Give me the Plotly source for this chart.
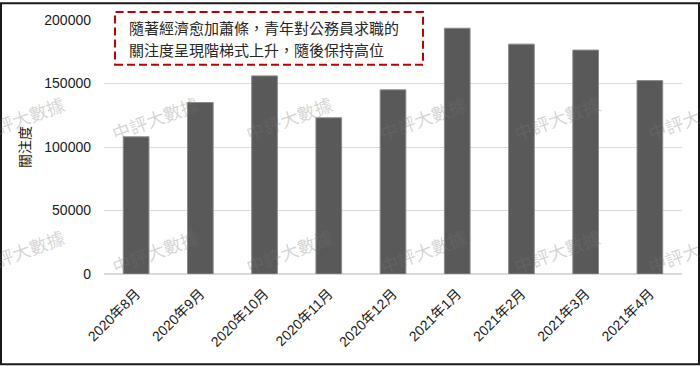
import plotly.graph_objects as go

months = ["2020年8月", "2020年9月", "2020年10月", "2020年11月", "2020年12月",
          "2021年1月", "2021年2月", "2021年3月", "2021年4月"]
attention = [108000, 135000, 156000, 123000, 145000, 193500, 181000, 176300, 152300]
y_ticks = [0, 50000, 100000, 150000, 200000]
y_title = "關注度"
note_lines = ["隨著經濟愈加蕭條，青年對公務員求職的", "關注度呈現階梯式上升，隨後保持高位"]
watermark = "中評大數據"

W, H = 700, 366
L, R, T, B = 104, 18, 18, 92
PW, PH = W - L - R, H - T - B


def px_x(x):
    return (x - L) / PW


def px_y(y):
    return (H - B - y) / PH


FONT = "Liberation Sans, Noto Sans CJK TC, sans-serif"
CJK = "Noto Sans CJK TC, sans-serif"

fig = go.Figure()
fig.add_trace(go.Bar(
    x=months, y=attention,
    marker=dict(color="#595959", line=dict(color="#8a8a8a", width=1)),
    hoverinfo="x+y",
))

annotations = []
# watermarks
for cy in [117, 251]:
    for cx in [21, 155, 289, 423, 557, 691]:
        annotations.append(dict(
            x=px_x(cx), y=px_y(cy), xref="paper", yref="paper",
            text=watermark, showarrow=False, textangle=-20,
            font=dict(family=CJK, size=18, color="rgba(120,120,120,0.32)"),
            xanchor="center", yanchor="middle",
        ))
# note text
for i, line in enumerate(note_lines):
    annotations.append(dict(
        x=px_x(127), y=px_y(26 + 22 * i), xref="paper", yref="paper",
        text=line, showarrow=False, xanchor="left", yanchor="middle",
        font=dict(family=CJK, size=15, color="#262626"),
    ))

shapes = [
    dict(type="rect", xref="paper", yref="paper",
         x0=px_x(115), x1=px_x(423), y0=px_y(63), y1=px_y(10),
         line=dict(color="#c00000", width=2, dash="8px,4px"),
         fillcolor="white", layer="above"),
    dict(type="rect", xref="paper", yref="paper",
         x0=px_x(1), x1=px_x(699), y0=px_y(365), y1=px_y(1),
         line=dict(color="#1a1a1a", width=2), fillcolor="rgba(0,0,0,0)", layer="above"),
]

fig.update_layout(
    width=W, height=H,
    margin=dict(l=L, r=R, t=T, b=B, pad=0),
    paper_bgcolor="white", plot_bgcolor="white",
    bargap=0.6,
    showlegend=False,
    font=dict(family=FONT, color="#262626"),
    annotations=annotations,
    shapes=shapes,
    xaxis=dict(
        tickangle=-45, tickfont=dict(family=FONT, size=14, color="#1a1a1a"),
        showgrid=False, showline=False, ticks="", ticklabelstandoff=8,
        fixedrange=True,
    ),
    yaxis=dict(
        range=[0, 200000], tickvals=y_ticks, tickformat="d",
        showgrid=True, gridcolor="#d9d9d9", gridwidth=1,
        zeroline=True, zerolinecolor="#d9d9d9", zerolinewidth=2,
        showline=False, ticks="", ticklabelstandoff=12,
        tickfont=dict(family=FONT, size=14, color="#1a1a1a"),
        title=dict(text=y_title, font=dict(family=CJK, size=14, color="#1a1a1a"), standoff=10),
        fixedrange=True,
    ),
)

fig.write_html("out.html", config={"displayModeBar": False},
               post_script="document.body.style.margin='0';document.body.style.overflow='hidden';")
